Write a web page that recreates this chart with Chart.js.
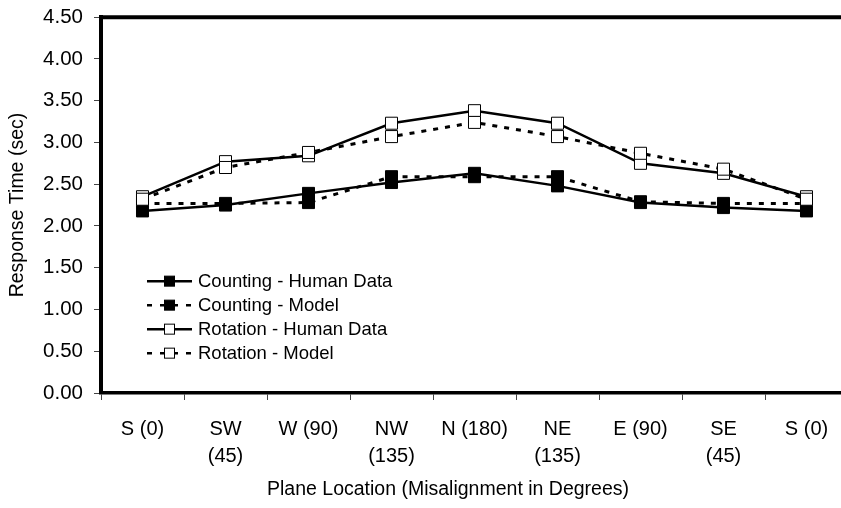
<!DOCTYPE html>
<html>
<head>
<meta charset="utf-8">
<script src="https://cdn.jsdelivr.net/npm/chart.js@4/dist/chart.umd.min.js"></script>
<style>
  html, body { margin: 0; padding: 0; background: #fff; overflow: hidden; }
  #wrap { width: 896px; height: 508px; }
</style>
</head>
<body>
<div id="wrap"><canvas id="chart" width="896" height="508"></canvas></div>
<script>
// plane positions around the circle, with misalignment in degrees
const locations = [["S (0)"], ["SW", "(45)"], ["W (90)"], ["NW", "(135)"], ["N (180)"],
                   ["NE", "(135)"], ["E (90)"], ["SE", "(45)"], ["S (0)"]];
const countingHuman = [2.18, 2.25, 2.39, 2.52, 2.63, 2.48, 2.28, 2.22, 2.18];
const countingModel = [2.27, 2.27, 2.28, 2.59, 2.59, 2.59, 2.29, 2.27, 2.27];
const rotationHuman = [2.35, 2.77, 2.84, 3.23, 3.38, 3.23, 2.75, 2.63, 2.35];
const rotationModel = [2.32, 2.70, 2.88, 3.07, 3.24, 3.07, 2.87, 2.68, 2.32];
const yTicks = [0, 0.5, 1, 1.5, 2, 2.5, 3, 3.5, 4, 4.5];
const xTitle = "Plane Location (Misalignment in Degrees)";

const FONT = "'Liberation Sans', Arial, Helvetica, sans-serif";

function series(label, values, dashed, filled, order) {
  return {
    label: label,
    data: values,
    order: order,
    borderColor: "#000",
    borderWidth: dashed ? 3 : 2.5,
    borderDash: dashed ? [5, 7] : [],
    tension: 0,
    fill: false,
    pointStyle: "rect",
    pointRadius: 8.5,
    pointHoverRadius: 8.5,
    pointBorderWidth: 1,
    pointBorderColor: "#000",
    pointBackgroundColor: filled ? "#000" : "#fff",
  };
}

// legend box drawn inside the plot, line sample + marker like the series
const insideLegend = {
  id: "insideLegend",
  afterDatasetsDraw(chart, args, opts) {
    const { ctx, chartArea } = chart;
    ctx.save();
    ctx.font = opts.font;
    ctx.textBaseline = "middle";
    ctx.textAlign = "left";
    chart.data.datasets.forEach((ds, i) => {
      const y = chartArea.top + opts.top + i * opts.rowHeight;
      const x0 = chartArea.left + opts.left;
      ctx.strokeStyle = ds.borderColor;
      ctx.lineWidth = 2.5;
      ctx.setLineDash(ds.borderDash.length ? opts.dash : []);
      ctx.beginPath();
      ctx.moveTo(x0, y);
      ctx.lineTo(x0 + opts.sampleWidth, y);
      ctx.stroke();
      ctx.setLineDash([]);
      const s = opts.markerSize;
      const cx = x0 + opts.sampleWidth / 2;
      ctx.fillStyle = ds.pointBackgroundColor;
      ctx.fillRect(cx - s / 2, y - s / 2, s, s);
      ctx.lineWidth = 1;
      ctx.strokeStyle = "#000";
      ctx.strokeRect(cx - s / 2, y - s / 2, s, s);
      ctx.fillStyle = "#000";
      ctx.fillText(ds.label, x0 + opts.sampleWidth + opts.gap, y + 1);
    });
    ctx.restore();
  },
};

// thick top edge of the plot frame and the category axis caption
const plotFrame = {
  id: "plotFrame",
  afterDraw(chart, args, opts) {
    const { ctx, chartArea } = chart;
    ctx.save();
    ctx.strokeStyle = "#000";
    ctx.lineWidth = 4;
    ctx.beginPath();
    ctx.moveTo(chartArea.left - 2, chartArea.top);
    ctx.lineTo(chartArea.right, chartArea.top);
    ctx.stroke();
    ctx.font = opts.font;
    ctx.fillStyle = "#000";
    ctx.textAlign = "center";
    ctx.textBaseline = "middle";
    ctx.fillText(opts.caption, chart.width / 2, opts.captionY);
    ctx.restore();
  },
};

new Chart(document.getElementById("chart"), {
  type: "line",
  data: {
    labels: locations,
    datasets: [
      series("Counting - Human Data", countingHuman, false, true, 4),
      series("Counting - Model", countingModel, true, true, 3),
      series("Rotation - Human Data", rotationHuman, false, false, 2),
      series("Rotation - Model", rotationModel, true, false, 1),
    ],
  },
  options: {
    responsive: false,
    animation: false,
    events: [],
    layout: { padding: { left: 0, top: 16, right: 48, bottom: 0 } },
    plugins: {
      legend: { display: false },
      tooltip: { enabled: false },
      plotFrame: {
        caption: xTitle,
        captionY: 490,
        font: "19.5px " + FONT,
      },
      insideLegend: {
        font: "18.5px " + FONT,
        left: 46,
        top: 264,
        rowHeight: 24,
        sampleWidth: 45,
        markerSize: 10,
        gap: 6,
        dash: [5, 8],
      },
    },
    scales: {
      x: {
        offset: true,
        grid: {
          offset: true,
          drawOnChartArea: false,
          tickLength: 7,
          tickColor: "#444",
          tickWidth: 1,
        },
        border: { color: "#000", width: 3.5 },
        ticks: {
          color: "#000",
          padding: 15.5,
          maxRotation: 0,
          autoSkip: false,
          font: { family: FONT, size: 20, lineHeight: 1.35 },
        },
        afterFit(scale) { scale.height = 115; },
      },
      y: {
        min: 0,
        max: 4.5,
        afterBuildTicks(scale) { scale.ticks = yTicks.map((v) => ({ value: v })); },
        grid: {
          drawOnChartArea: false,
          tickLength: 7,
          tickColor: "#444",
          tickWidth: 1,
        },
        border: { color: "#000", width: 4 },
        ticks: {
          color: "#000",
          padding: 11,
          font: { family: FONT, size: 20.5, lineHeight: 0.6 },
          callback: (v) => v.toFixed(2),
        },
        title: {
          display: true,
          text: "Response Time (sec)",
          color: "#000",
          font: { family: FONT, size: 19.5, lineHeight: 1.2 },
          padding: { top: 6.3, bottom: 0 },
        },
        afterFit(scale) { scale.width = 101; },
      },
    },
  },
  plugins: [insideLegend, plotFrame],
});
</script>
</body>
</html>
